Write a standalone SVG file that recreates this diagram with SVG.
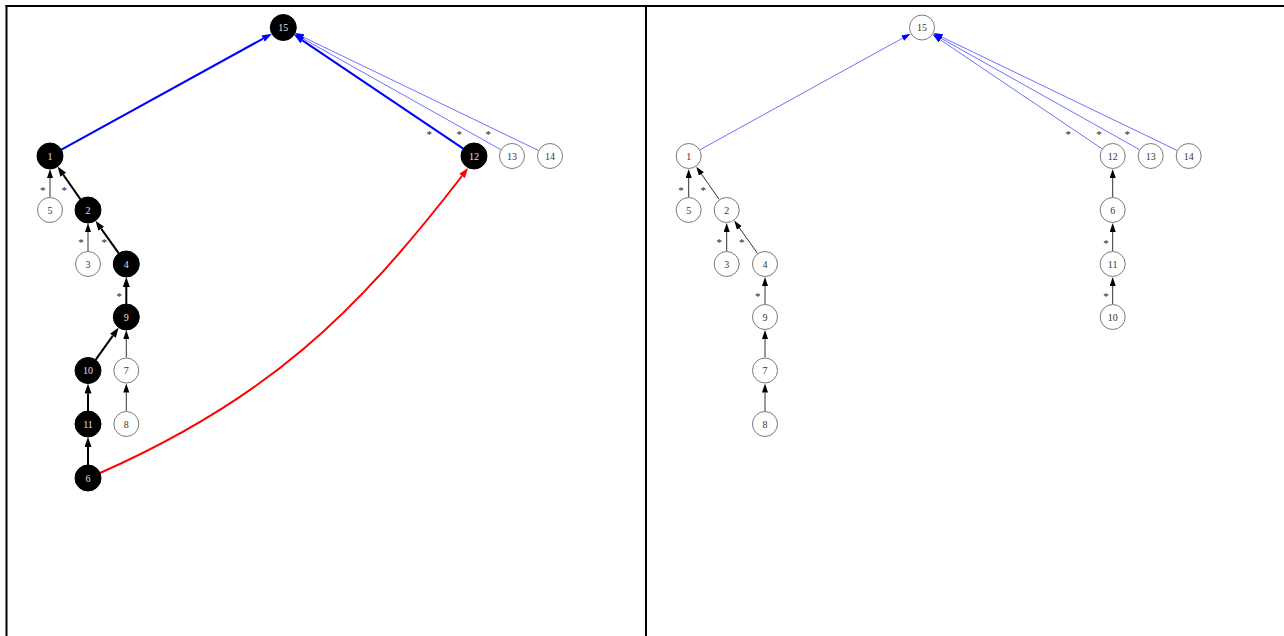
<svg xmlns="http://www.w3.org/2000/svg" width="1284" height="636" viewBox="0 0 1284 636">
<style>
.frame{stroke:#000;stroke-width:2;fill:none}
.nb circle{fill:#000;stroke:#000;stroke-width:1}
.nb text{fill:#e0e0e0}
.nw circle{fill:#fff;stroke:#7a7a7a;stroke-width:1}
.nw text{fill:#333}
text{font-family:"Liberation Serif","Times New Roman",serif;font-size:10px;text-anchor:middle}
.ast text{font-size:11px;fill:#222}
.e{fill:none;stroke-linecap:butt}
.tk{stroke:#000;stroke-width:2;marker-end:url(#ak)}
.tn{stroke:#333;stroke-width:1;marker-end:url(#an)}
.bk{stroke:#0000ff;stroke-width:2;marker-end:url(#ab)}
.bn{stroke:#7070ff;stroke-width:1;marker-end:url(#al)}
.rk{stroke:#ff0000;stroke-width:2;marker-end:url(#ar)}
</style>
<defs>
<marker id="ak" markerUnits="userSpaceOnUse" markerWidth="11" markerHeight="8" refX="0" refY="3.5" orient="auto"><path d="M0,0 L10,3.5 L0,7 z" fill="#000"/></marker>
<marker id="an" markerUnits="userSpaceOnUse" markerWidth="10" markerHeight="7" refX="0" refY="3" orient="auto"><path d="M0,0 L9,3 L0,6 z" fill="#000"/></marker>
<marker id="ab" markerUnits="userSpaceOnUse" markerWidth="11" markerHeight="8" refX="0" refY="3.5" orient="auto"><path d="M0,0 L10,3.5 L0,7 z" fill="#0000ff"/></marker>
<marker id="al" markerUnits="userSpaceOnUse" markerWidth="10" markerHeight="7" refX="0" refY="3" orient="auto"><path d="M0,0 L9,3 L0,6 z" fill="#0000ff"/></marker>
<marker id="ar" markerUnits="userSpaceOnUse" markerWidth="11" markerHeight="8" refX="0" refY="3.5" orient="auto"><path d="M0,0 L10,3.5 L0,7 z" fill="#ff0000"/></marker>
</defs>
<rect width="1284" height="636" fill="#fff"/>
<g id="frame" class="frame">
<line x1="5.5" y1="6" x2="1284" y2="6"/>
<line x1="6.5" y1="5" x2="6.5" y2="636"/>
<line x1="646" y1="5" x2="646" y2="636"/>
</g>

<!-- LEFT PANEL -->
<g id="left-connectors">
<line class="e bn" x1="500.7" y1="149.6" x2="302.4" y2="38.3"/>
<line class="e bn" x1="538.3" y1="150.4" x2="303.1" y2="37.0"/>
<line class="e bk" x1="61.4" y1="149.7" x2="263.1" y2="38.6"/>
<line class="e bk" x1="463.2" y1="148.7" x2="302.4" y2="40.4"/>
<line class="e tn" x1="50" y1="197" x2="50" y2="178"/>
<line class="e tk" x1="80.5" y1="199.4" x2="63.3" y2="174.8"/>
<line class="e tn" x1="88" y1="251" x2="88" y2="232"/>
<line class="e tk" x1="118.8" y1="253.4" x2="101.3" y2="228.8"/>
<line class="e tk" x1="126.3" y1="304" x2="126.3" y2="287"/>
<line class="e tk" x1="95.6" y1="359.9" x2="112.9" y2="335.7"/>
<line class="e tn" x1="126.3" y1="357.5" x2="126.3" y2="339"/>
<line class="e tn" x1="126.3" y1="411" x2="126.3" y2="392.5"/>
<line class="e tk" x1="88" y1="411" x2="88" y2="393.5"/>
<line class="e tk" x1="88" y1="465" x2="88" y2="447"/>
<path class="e rk" d="M100,473 C267,399 354,316 462,176"/>
<g class="ast">
<text x="42.7" y="193.5">*</text>
<text x="64.3" y="193.5">*</text>
<text x="81" y="246.2">*</text>
<text x="104.3" y="246.2">*</text>
<text x="119.3" y="300.2">*</text>
<text x="429.3" y="137.9">*</text>
<text x="459.3" y="137.9">*</text>
<text x="488.3" y="137.9">*</text>
</g>
</g>
<g id="L15" class="nb"><circle cx="283.3" cy="27.5" r="13"/><text x="283.3" y="31">15</text></g>
<g id="L1" class="nb"><circle cx="50" cy="156" r="13"/><text x="50" y="159.5">1</text></g>
<g id="L5" class="nw"><circle cx="50" cy="210" r="12.5"/><text x="50" y="213.5">5</text></g>
<g id="L2" class="nb"><circle cx="88" cy="210" r="13"/><text x="88" y="213.5">2</text></g>
<g id="L3" class="nw"><circle cx="88" cy="264" r="12.5"/><text x="88" y="267.5">3</text></g>
<g id="L4" class="nb"><circle cx="126.3" cy="264" r="13"/><text x="126.3" y="267.5">4</text></g>
<g id="L9" class="nb"><circle cx="126.3" cy="317" r="13"/><text x="126.3" y="320.5">9</text></g>
<g id="L10" class="nb"><circle cx="88" cy="370.5" r="13"/><text x="88" y="374">10</text></g>
<g id="L7" class="nw"><circle cx="126.3" cy="370.5" r="12.5"/><text x="126.3" y="374">7</text></g>
<g id="L11" class="nb"><circle cx="88" cy="424" r="13"/><text x="88" y="427.5">11</text></g>
<g id="L8" class="nw"><circle cx="126.3" cy="424" r="12.5"/><text x="126.3" y="427.5">8</text></g>
<g id="L6" class="nb"><circle cx="88" cy="478" r="13"/><text x="88" y="481.5">6</text></g>
<g id="L12" class="nb"><circle cx="474" cy="156" r="13"/><text x="474" y="159.5">12</text></g>
<g id="L13" class="nw"><circle cx="512" cy="156" r="12.5"/><text x="512" y="159.5">13</text></g>
<g id="L14" class="nw"><circle cx="550" cy="156" r="12.5"/><text x="550" y="159.5">14</text></g>

<!-- RIGHT PANEL -->
<g transform="translate(638.7,0)">
<g id="right-connectors">
<line class="e bn" x1="61.4" y1="149.7" x2="264.0" y2="38.1"/>
<line class="e bn" x1="463.2" y1="148.7" x2="301.6" y2="39.8"/>
<line class="e bn" x1="500.7" y1="149.6" x2="302.4" y2="38.3"/>
<line class="e bn" x1="538.3" y1="150.4" x2="303.1" y2="37.0"/>
<line class="e tn" x1="50" y1="197" x2="50" y2="178"/>
<line class="e tn" x1="80.5" y1="199.4" x2="62.7" y2="174.0"/>
<line class="e tn" x1="88" y1="251" x2="88" y2="232"/>
<line class="e tn" x1="118.8" y1="253.4" x2="100.7" y2="227.9"/>
<line class="e tn" x1="126.3" y1="304" x2="126.3" y2="286"/>
<line class="e tn" x1="126.3" y1="357.5" x2="126.3" y2="339"/>
<line class="e tn" x1="126.3" y1="411" x2="126.3" y2="392.5"/>
<line class="e tn" x1="474" y1="197" x2="474" y2="178"/>
<line class="e tn" x1="474" y1="251" x2="474" y2="232"/>
<line class="e tn" x1="474" y1="304" x2="474" y2="286"/>
<g class="ast">
<text x="42.2" y="193.5">*</text>
<text x="64.6" y="193.5">*</text>
<text x="80.6" y="246.2">*</text>
<text x="103" y="246.2">*</text>
<text x="119" y="300.2">*</text>
<text x="429.6" y="137.9">*</text>
<text x="460.3" y="137.9">*</text>
<text x="488.6" y="137.9">*</text>
<text x="467.3" y="246.9">*</text>
<text x="467.3" y="299.5">*</text>
</g>
</g>
<g id="R15" class="nw"><circle cx="283.3" cy="27.5" r="12.5"/><text x="283.3" y="31">15</text></g>
<g id="R1" class="nw"><circle cx="50" cy="156" r="12.5"/><text x="50" y="159.5">1</text></g>
<g id="R5" class="nw"><circle cx="50" cy="210" r="12.5"/><text x="50" y="213.5">5</text></g>
<g id="R2" class="nw"><circle cx="88" cy="210" r="12.5"/><text x="88" y="213.5">2</text></g>
<g id="R3" class="nw"><circle cx="88" cy="264" r="12.5"/><text x="88" y="267.5">3</text></g>
<g id="R4" class="nw"><circle cx="126.3" cy="264" r="12.5"/><text x="126.3" y="267.5">4</text></g>
<g id="R9" class="nw"><circle cx="126.3" cy="317" r="12.5"/><text x="126.3" y="320.5">9</text></g>
<g id="R7" class="nw"><circle cx="126.3" cy="370.5" r="12.5"/><text x="126.3" y="374">7</text></g>
<g id="R8" class="nw"><circle cx="126.3" cy="424" r="12.5"/><text x="126.3" y="427.5">8</text></g>
<g id="R12" class="nw"><circle cx="474" cy="156" r="12.5"/><text x="474" y="159.5">12</text></g>
<g id="R13" class="nw"><circle cx="512" cy="156" r="12.5"/><text x="512" y="159.5">13</text></g>
<g id="R14" class="nw"><circle cx="550" cy="156" r="12.5"/><text x="550" y="159.5">14</text></g>
<g id="R6" class="nw"><circle cx="474" cy="210" r="12.5"/><text x="474" y="213.5">6</text></g>
<g id="R11" class="nw"><circle cx="474" cy="264" r="12.5"/><text x="474" y="267.5">11</text></g>
<g id="R10" class="nw"><circle cx="474" cy="317" r="12.5"/><text x="474" y="320.5">10</text></g>
</g>
</svg>
